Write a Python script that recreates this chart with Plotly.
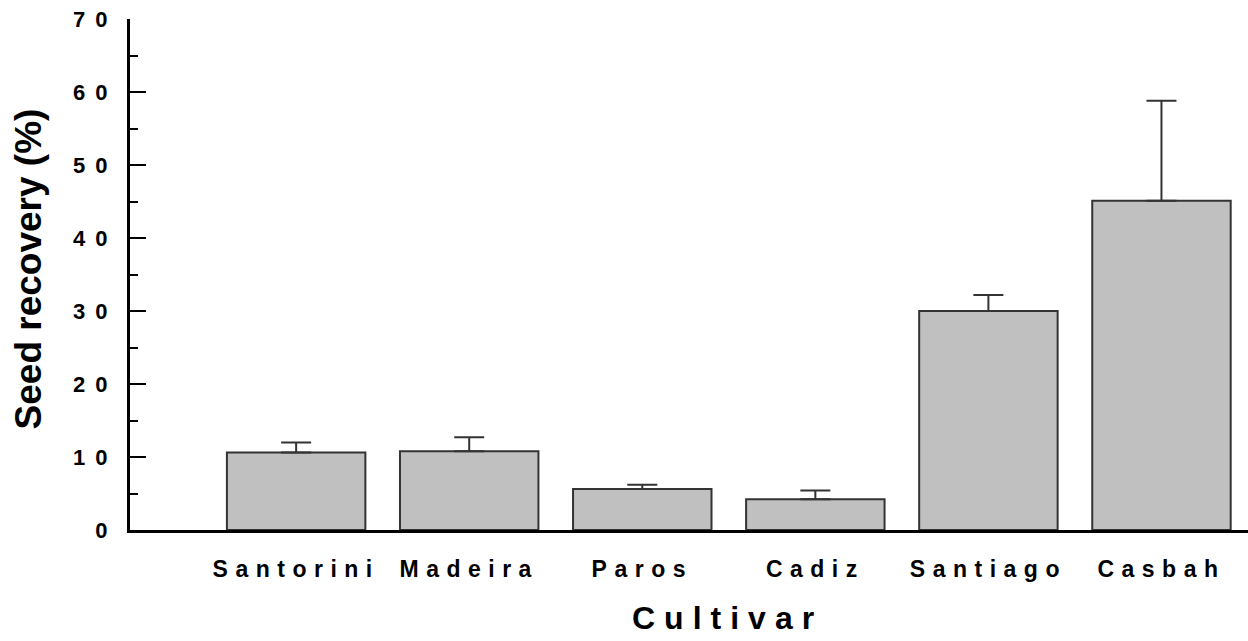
import plotly.graph_objects as go

cultivars = ["Santorini", "Madeira", "Paros", "Cadiz", "Santiago", "Casbah"]
recovery = [10.6, 10.8, 5.6, 4.2, 30.0, 45.1]
err_plus = [1.4, 1.9, 0.6, 1.2, 2.2, 13.7]
err_minus = [0, 0, 0, 0, 0, 0]
y_ticks = [0, 10, 20, 30, 40, 50, 60, 70]

FONT = "Liberation Sans, Arial, sans-serif"

fig = go.Figure(
    go.Bar(
        x=cultivars,
        y=recovery,
        width=0.8,
        marker=dict(color="#c0c0c0", line=dict(color="#333333", width=2)),
        error_y=dict(
            type="data", symmetric=False, array=err_plus, arrayminus=err_minus,
            color="#333333", thickness=2, width=15,
        ),
    )
)

fig.update_layout(
    width=1248, height=641,
    margin=dict(l=130, r=0, t=19, b=111),
    plot_bgcolor="white", paper_bgcolor="white",
    showlegend=False,
    font=dict(family=FONT, color="black"),
    annotations=[
        dict(text="Cultivar", xref="paper", yref="paper", x=0.534, y=-0.172,
             xanchor="center", yanchor="middle", showarrow=False,
             font=dict(family=FONT, size=32, weight="bold", color="black")),
        dict(text="Seed recovery (%)", xref="paper", yref="paper", x=-0.0912, y=0.51,
             xanchor="center", yanchor="middle", showarrow=False, textangle=-90,
             font=dict(family=FONT, size=37, weight="bold", color="black")),
    ],
)

fig.update_xaxes(
    type="category", range=[-0.96, 5.5],
    showline=True, linewidth=3, linecolor="black",
    ticks="", showgrid=False, zeroline=False,
    tickfont=dict(family=FONT, size=23, weight="bold", color="black"),
    ticklabelstandoff=16,
)

fig.update_yaxes(
    range=[0, 70], tickvals=y_ticks,
    showline=True, linewidth=3, linecolor="black",
    ticks="inside", ticklen=16, tickwidth=2, tickcolor="black",
    minor=dict(dtick=5, ticks="inside", ticklen=8, tickwidth=2, tickcolor="black"),
    showgrid=False, zeroline=False,
    tickfont=dict(family=FONT, size=22, weight="bold", color="black"),
    ticklabelstandoff=5,
)

post = """
document.body.style.margin = '0';
document.body.style.padding = '0';
var gd = document.getElementById('{plot_id}');
function spacing(){
  gd.querySelectorAll('.xtick text').forEach(function(t){ t.style.letterSpacing='7.5px'; });
  gd.querySelectorAll('.ytick text').forEach(function(t){ t.style.letterSpacing='10px'; });
  gd.querySelectorAll('.annotation-text').forEach(function(t){
    if (t.textContent === 'Cultivar') { t.style.letterSpacing='9px'; }
  });
}
spacing();
gd.on('plotly_afterplot', spacing);
"""

fig.write_html("out.html", post_script=post, config={"displayModeBar": False})
